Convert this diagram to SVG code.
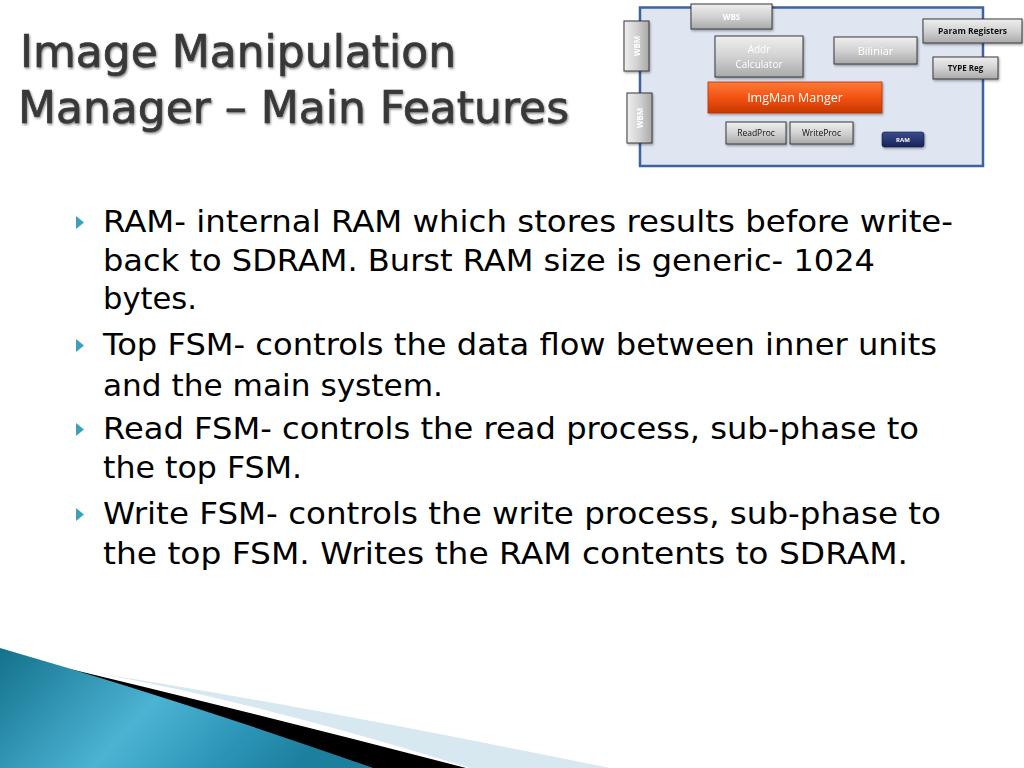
<svg xmlns="http://www.w3.org/2000/svg" width="1024" height="768" viewBox="0 0 1024 768">
<defs>
  <linearGradient id="gGray" x1="0" y1="0" x2="0" y2="1">
    <stop offset="0" stop-color="#efefef"/>
    <stop offset="0.5" stop-color="#d2d2d2"/>
    <stop offset="1" stop-color="#a9a9a9"/>
  </linearGradient>
  <linearGradient id="gGrayH" x1="0" y1="0" x2="1" y2="0">
    <stop offset="0" stop-color="#efefef"/>
    <stop offset="0.5" stop-color="#d2d2d2"/>
    <stop offset="1" stop-color="#a9a9a9"/>
  </linearGradient>
  <linearGradient id="gOrange" x1="0" y1="0" x2="0" y2="1">
    <stop offset="0" stop-color="#ff7a3c"/>
    <stop offset="0.5" stop-color="#f2520f"/>
    <stop offset="1" stop-color="#c83800"/>
  </linearGradient>
  <linearGradient id="gNavy" x1="0" y1="0" x2="0" y2="1">
    <stop offset="0" stop-color="#3a4c8c"/>
    <stop offset="1" stop-color="#18235a"/>
  </linearGradient>
  <linearGradient id="gTeal" x1="0" y1="0" x2="1" y2="0.3">
    <stop offset="0" stop-color="#13718c"/>
    <stop offset="0.5" stop-color="#4cb3d3"/>
    <stop offset="0.8" stop-color="#2b94b6"/>
    <stop offset="1" stop-color="#1d7f9e"/>
  </linearGradient>
  <filter id="shadow" x="-20%" y="-20%" width="150%" height="160%">
    <feDropShadow dx="1" dy="1.5" stdDeviation="1" flood-color="#000" flood-opacity="0.35"/>
  </filter>
  <filter id="tshadow" x="-5%" y="-10%" width="110%" height="130%">
    <feDropShadow dx="1" dy="1.5" stdDeviation="1" flood-color="#000" flood-opacity="0.45"/>
  </filter>
</defs>
<style>
  .title { font-family: "DejaVu Sans", "Liberation Sans", sans-serif; font-size: 44px; fill: #383838; stroke: #383838; stroke-width: 0.7; }
  .body { font-family: "DejaVu Sans", "Liberation Sans", sans-serif; font-size: 30px; fill: #000; }
  .bullet { fill: #3aa0c0; }
  .box { fill: url(#gGray); stroke: #3a3a3a; stroke-width: 1; }
  .boxv { fill: url(#gGrayH); stroke: #3a3a3a; stroke-width: 1; }
  .lbl { font-family: "Open Sans", "Liberation Sans", sans-serif; text-anchor: middle; }
  .wt { fill: #ffffff; }
  .bk { fill: #111111; }
</style>
<rect width="1024" height="768" fill="#ffffff"/>

<!-- bottom decoration -->
<g id="swoosh">
  <path d="M 90 672 Q 300 705 610 768 L 470 768 Q 250 700 90 672 Z" fill="#d8e8f0"/>
  <path d="M 45 663 Q 250 712 466 768 L 372 768 Q 200 710 45 663 Z" fill="#000000"/>
  <path d="M 0 648 Q 180 700 373 768 L 0 768 Z" fill="url(#gTeal)"/>
</g>

<!-- title -->
<g id="title" filter="url(#tshadow)">
  <text class="title" x="20" y="67">Image Manipulation</text>
  <text class="title" x="18" y="123">Manager – Main Features</text>
</g>

<!-- bullets -->
<g id="bullets">
  <polygon class="bullet" points="76,216 84,222.5 76,229"/>
  <polygon class="bullet" points="76,339 84,345.5 76,352"/>
  <polygon class="bullet" points="76,423 84,429.5 76,436"/>
  <polygon class="bullet" points="76,508 84,514.5 76,521"/>
  <text class="body" x="103" y="232" textLength="850" lengthAdjust="spacingAndGlyphs">RAM- internal RAM which stores results before write-</text>
  <text class="body" x="103" y="271" textLength="772" lengthAdjust="spacingAndGlyphs">back to SDRAM. Burst RAM size is generic- 1024</text>
  <text class="body" x="103" y="309" textLength="94" lengthAdjust="spacingAndGlyphs">bytes.</text>
  <text class="body" x="103" y="355" textLength="834" lengthAdjust="spacingAndGlyphs">Top FSM- controls the data flow between inner units</text>
  <text class="body" x="103" y="396" textLength="340" lengthAdjust="spacingAndGlyphs">and the main system.</text>
  <text class="body" x="103" y="439" textLength="816" lengthAdjust="spacingAndGlyphs">Read FSM- controls the read process, sub-phase to</text>
  <text class="body" x="103" y="478" textLength="199" lengthAdjust="spacingAndGlyphs">the top FSM.</text>
  <text class="body" x="103" y="524" textLength="838" lengthAdjust="spacingAndGlyphs">Write FSM- controls the write process, sub-phase to</text>
  <text class="body" x="103" y="564" textLength="805" lengthAdjust="spacingAndGlyphs">the top FSM. Writes the RAM contents to SDRAM.</text>
</g>

<!-- block diagram -->
<g id="container">
  <rect x="640" y="7.5" width="343" height="158.5" fill="#dfe6f1" stroke="#3d62a0" stroke-width="2.5"/>
</g>
<g id="connectors"></g>
<g id="wbs" filter="url(#shadow)">
  <rect class="box" x="691" y="4" width="81" height="25"/>
  <text class="lbl wt" x="731.5" y="19.5" font-size="8" font-weight="bold">WBS</text>
</g>
<g id="wbm1" filter="url(#shadow)">
  <rect class="boxv" x="624" y="21" width="25" height="50"/>
  <text class="lbl wt" transform="translate(639.5,46) rotate(-90)" font-size="8" font-weight="bold">WBM</text>
</g>
<g id="wbm2" filter="url(#shadow)">
  <rect class="boxv" x="627" y="93" width="25" height="50"/>
  <text class="lbl wt" transform="translate(642.5,118) rotate(-90)" font-size="8" font-weight="bold">WBM</text>
</g>
<g id="addr" filter="url(#shadow)">
  <rect class="box" x="715" y="36" width="88" height="41"/>
  <text class="lbl wt" x="759" y="53" font-size="10">Addr</text>
  <text class="lbl wt" x="759" y="68" font-size="10">Calculator</text>
</g>
<g id="biliniar" filter="url(#shadow)">
  <rect class="box" x="834" y="37" width="83" height="27"/>
  <text class="lbl wt" x="875.5" y="55" font-size="11">Biliniar</text>
</g>
<g id="paramreg" filter="url(#shadow)">
  <rect class="box" x="923" y="19" width="99" height="24"/>
  <text class="lbl bk" x="972.5" y="34" font-size="8.5" font-weight="bold">Param Registers</text>
</g>
<g id="typereg" filter="url(#shadow)">
  <rect class="box" x="933" y="57" width="65" height="22"/>
  <text class="lbl bk" x="965.5" y="71" font-size="8" font-weight="bold">TYPE Reg</text>
</g>
<g id="imgman" filter="url(#shadow)">
  <rect x="708" y="82" width="174" height="31" fill="url(#gOrange)" stroke="#b83000" stroke-width="0.8"/>
  <text class="lbl wt" x="795" y="101.5" font-size="12.5">ImgMan Manger</text>
</g>
<g id="readproc" filter="url(#shadow)">
  <rect class="box" x="726" y="122" width="60" height="22"/>
  <text class="lbl bk" x="756" y="136" font-size="8.5">ReadProc</text>
</g>
<g id="writeproc" filter="url(#shadow)">
  <rect class="box" x="790" y="122" width="63" height="22"/>
  <text class="lbl bk" x="821.5" y="136" font-size="8.5">WriteProc</text>
</g>
<g id="ram" filter="url(#shadow)">
  <rect x="882" y="132" width="42" height="15" rx="2.5" fill="url(#gNavy)" stroke="#101840" stroke-width="0.6"/>
  <text class="lbl wt" x="903" y="142.2" font-size="6" font-weight="bold">RAM</text>
</g>
</svg>
